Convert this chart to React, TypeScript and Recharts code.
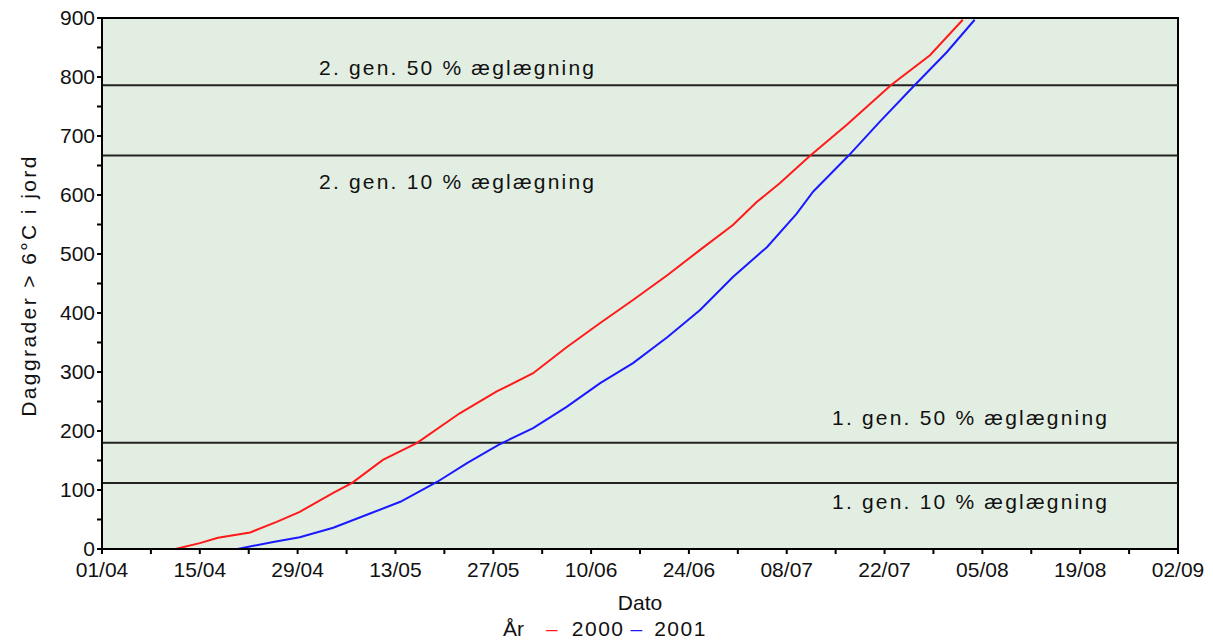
import React from 'react';
import { LineChart, Line, XAxis, YAxis, ReferenceLine, ReferenceArea, Legend } from 'recharts';

// Day offsets from 01/04 and accumulated day-degrees
const days2000 = [8, 10.5, 14, 16.6, 21.2, 25, 28.3, 33.1, 35.8, 40.2, 45.1, 51.2, 56.5, 61.7, 66.5, 71.3, 76, 80.9, 85.6, 90.3, 93.7, 97, 101.3, 106.6, 112.9, 118.5, 123.2];
const values2000 = [0, 0, 10, 19, 28, 46, 63, 95, 112, 151, 180, 230, 267, 298, 342, 383, 422, 464, 507, 549, 588, 620, 666, 719, 786, 837, 897];

const days2001 = [14.7, 19.4, 24.5, 28.3, 33.1, 37.9, 42.7, 48, 52.3, 57, 61.7, 66.5, 71.3, 76, 80.9, 85.6, 90.3, 95.2, 99.4, 101.8, 106.8, 111.3, 116.3, 120.9, 124.9];
const values2001 = [0, 0, 12, 20, 36, 58, 80, 114, 146, 178, 205, 241, 281, 315, 359, 405, 461, 512, 568, 606, 666, 724, 786, 842, 897];

const dateLabels = ['01/04', '15/04', '29/04', '13/05', '27/05', '10/06', '24/06', '08/07', '22/07', '05/08', '19/08', '02/09'];
const xTicks = [0, 7, 14, 21, 28, 35, 42, 49, 56, 63, 70, 77, 84, 91, 98, 105, 112, 119, 126, 133, 140, 147, 154];
const yTicks = [0, 50, 100, 150, 200, 250, 300, 350, 400, 450, 500, 550, 600, 650, 700, 750, 800, 850, 900];

const thresholds = [786, 667, 180, 112];
const thresholdLabels = ['2. gen. 50 % æglægning', '2. gen. 10 % æglægning', '1. gen. 50 % æglægning', '1. gen. 10 % æglægning'];

const seriesNames = ['2000', '2001'];
const legendTitle = 'År';

const data2000 = days2000.map((d, i) => ({ day: d, value: values2000[i] }));
const data2001 = days2001.map((d, i) => ({ day: d, value: values2001[i] }));

const FONT = '"Liberation Sans", Arial, sans-serif';
const RED = '#ff1a1a';
const BLUE = '#1a1aff';

// label placement: [dx from plot left, dy from line]
const labelPlacement = [
  [217, -10],
  [217, 34],
  [730, -18],
  [730, 26],
];

const makeRefLabel = (text: string, idx: number) => (props: any) => {
  const vb = props.viewBox || {};
  const [dx, dy] = labelPlacement[idx];
  return (
    <text x={vb.x + dx} y={vb.y + dy} fontFamily={FONT} fontSize={21} fill="#111" style={{ letterSpacing: '2.2px' }}>
      {text}
    </text>
  );
};

const YLabel = (props: any) => {
  const vb = props.viewBox || {};
  const cx = vb.x + 20;
  const cy = vb.y + vb.height / 2 + 2;
  return (
    <text x={cx} y={cy} transform={`rotate(-90 ${cx} ${cy})`} textAnchor="middle" dominantBaseline="central" fontFamily={FONT} fontSize={21} fill="#111" style={{ letterSpacing: '2.4px' }}>
      Daggrader &gt; 6°C i jord
    </text>
  );
};

const LegendContent = () => (
  <div style={{ display: 'flex', justifyContent: 'center', alignItems: 'center', fontFamily: FONT, fontSize: 21, color: '#111', height: 30, paddingLeft: 24 }}>
    <span style={{ marginRight: 22 }}>{legendTitle}</span>
    <span style={{ color: RED, marginRight: 14 }}>–</span>
    <span style={{ marginRight: 6, letterSpacing: '1.5px' }}>{seriesNames[0]}</span>
    <span style={{ color: BLUE, marginRight: 12 }}>–</span>
    <span style={{ letterSpacing: '1.5px' }}>{seriesNames[1]}</span>
  </div>
);

export default function App() {
  return (
    <div style={{ width: 1205, height: 636 }}>
      <LineChart width={1205} height={636} margin={{ top: 10, right: 35, bottom: 0, left: 0 }}>
        <XAxis
          type="number"
          dataKey="day"
          domain={[0, 154]}
          ticks={xTicks}
          interval={0}
          allowDataOverflow
          tickFormatter={(v: number) => (v % 14 === 0 ? dateLabels[v / 14] : '')}
          tick={{ fontSize: 21, fill: '#111', fontFamily: FONT }}
          tickSize={5}
          tickMargin={8}
          stroke="#000"
          strokeWidth={2}
          height={65}
          label={{ value: 'Dato', position: 'insideBottom', offset: 4, fontSize: 21, fill: '#111', fontFamily: FONT }}
        />
        <YAxis
          type="number"
          domain={[0, 900]}
          ticks={yTicks}
          interval={0}
          allowDataOverflow
          tickFormatter={(v: number) => (v % 100 === 0 ? String(v) : '')}
          tick={{ fontSize: 21, fill: '#111', fontFamily: FONT }}
          tickSize={5}
          tickMargin={2}
          stroke="#000"
          strokeWidth={2}
          width={94}
          label={<YLabel />}
        />
        <ReferenceArea x1={0} x2={154} y1={0} y2={900} fill="#e3eee2" fillOpacity={1} stroke="#000" strokeWidth={2} />
        {thresholds.map((t, i) => (
          <ReferenceLine key={i} y={t} stroke="#222" strokeWidth={2} label={makeRefLabel(thresholdLabels[i], i)} />
        ))}
        <Line data={data2000} dataKey="value" type="linear" stroke={RED} strokeWidth={2} dot={false} isAnimationActive={false} name={seriesNames[0]} />
        <Line data={data2001} dataKey="value" type="linear" stroke={BLUE} strokeWidth={2} dot={false} isAnimationActive={false} name={seriesNames[1]} />
        <Legend verticalAlign="bottom" height={30} content={<LegendContent />} />
      </LineChart>
    </div>
  );
}
